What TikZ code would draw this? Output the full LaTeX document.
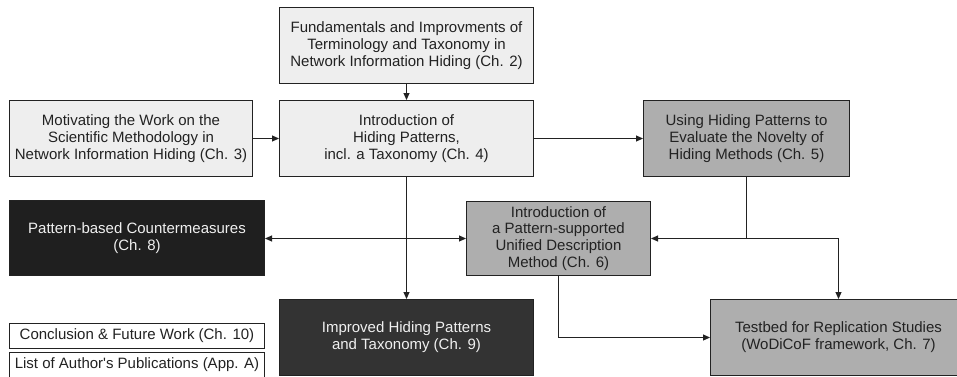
\documentclass[tikz,border=0pt]{standalone}
\usepackage{fontspec}
\newfontfamily\diagfont{Liberation Sans}
\usetikzlibrary{arrows.meta}

\definecolor{lightbox}{HTML}{EEEEEE}
\definecolor{midbox}{HTML}{AEAEAE}
\definecolor{darkbox}{HTML}{1F1F1F}
\definecolor{darkboxb}{HTML}{333333}
\definecolor{linecol}{HTML}{222222}
\definecolor{textdark}{HTML}{222222}
\definecolor{textlight}{HTML}{F0F0F0}

\tikzset{
  chapter/.style={draw=linecol, line width=1pt, inner sep=0pt, align=center,
    text=textdark, font={\diagfont\fontsize{15}{16.8}\selectfont}},
  lightbox/.style={chapter, fill=lightbox},
  midbox/.style={chapter, fill=midbox},
  darkbox/.style={chapter, fill=darkbox, text=textlight},
  darkboxb/.style={chapter, fill=darkboxb, text=textlight},
  plainbox/.style={chapter, fill=white},
  flow/.style={draw=linecol, line width=1pt, -{Triangle[length=7pt,width=6pt]}},
  twoway/.style={draw=linecol, line width=1pt,
    {Triangle[length=7pt,width=6pt]}-{Triangle[length=7pt,width=6pt]}}
}

\begin{document}
\begin{tikzpicture}[x=1pt,y=-1pt]
\useasboundingbox (0,0) rectangle (957,376);
\clip (0,0) rectangle (957,376);
\fill[white] (0,0) rectangle (957,376);

% chapters
\node[lightbox, minimum width=254pt, minimum height=76pt] (ch2) at (406.5,45.5)
  {Fundamentals and Improvments of\\Terminology and Taxonomy in\\Network Information Hiding (Ch. 2)};
\node[lightbox, minimum width=243pt, minimum height=76pt] (ch3) at (131,138.5)
  {Motivating the Work on the\\Scientific Methodology in\\Network Information Hiding (Ch. 3)};
\node[lightbox, minimum width=254pt, minimum height=76pt] (ch4) at (406.5,138.5)
  {Introduction of\\Hiding Patterns,\\incl. a Taxonomy (Ch. 4)};
\node[midbox, minimum width=206pt, minimum height=76pt] (ch5) at (746.5,138.5)
  {Using Hiding Patterns to\\Evaluate the Novelty of\\Hiding Methods (Ch. 5)};
\node[darkbox, minimum width=255pt, minimum height=75pt] (ch8) at (137,238)
  {Pattern-based Countermeasures\\(Ch. 8)};
\node[midbox, minimum width=184pt, minimum height=74pt] (ch6) at (558.5,238.5)
  {Introduction of\\a Pattern-supported\\Unified Description\\Method (Ch. 6)};
\node[darkboxb, minimum width=254pt, minimum height=76pt] (ch9) at (406.5,337.5)
  {Improved Hiding Patterns\\and Taxonomy (Ch. 9)};
\node[midbox, minimum width=256pt, minimum height=76pt] (ch7) at (838.5,337.5)
  {Testbed for Replication Studies\\(WoDiCoF framework, Ch. 7)};

% closing entries
\node[plainbox, minimum width=255pt, minimum height=25pt] (ch10) at (137,336)
  {Conclusion \& Future Work (Ch. 10)};
\node[plainbox, minimum width=255pt, minimum height=25pt] (appA) at (137,365)
  {List of Author's Publications (App. A)};

% connectors
\draw[flow] (ch2.south) -- (ch2.south |- ch4.north);
\draw[flow] (ch3.east) -- (ch4.west);
\draw[flow] (ch4.east) -- (ch5.west);
\draw[flow] (ch4.south) -- (ch4.south |- ch9.north);
\draw[twoway] (ch6.west -| ch8.east) -- (ch6.west);
\coordinate (split) at (ch5.south |- ch6.east);
\draw[flow] (ch5.south) -- (split) -- (ch6.east);
\draw[flow] (split) -| (ch7.north);
\draw[flow] (ch6.south) |- (ch7.west);
\end{tikzpicture}
\end{document}
